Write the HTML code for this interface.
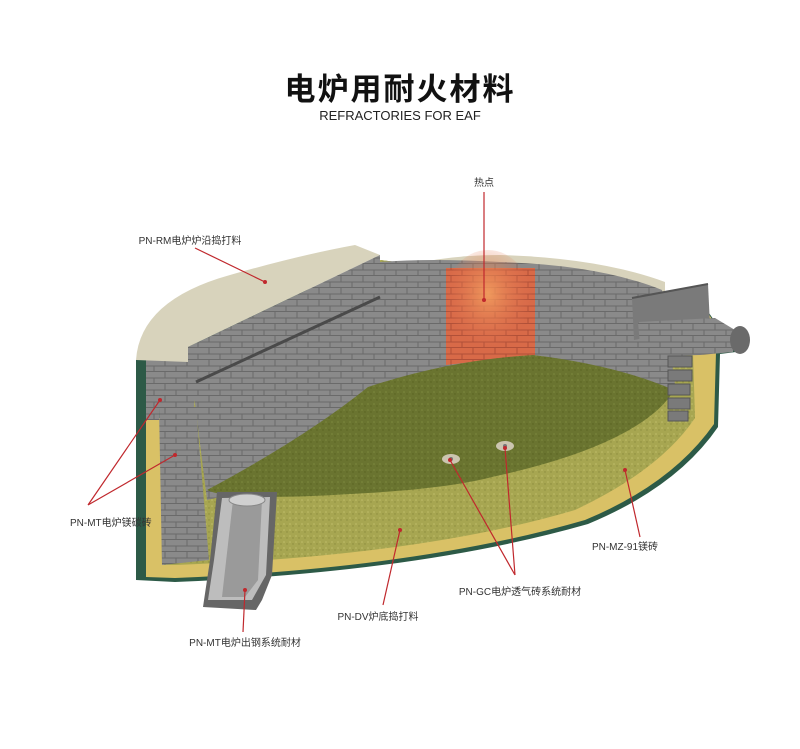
<!DOCTYPE html>
<html><head><meta charset="utf-8"><style>
html,body{margin:0;padding:0;background:#fff;}
body{width:800px;height:744px;overflow:hidden;font-family:"Liberation Sans","Noto Sans CJK SC",sans-serif;}
</style></head><body>
<svg width="800" height="744" viewBox="0 0 800 744" xmlns="http://www.w3.org/2000/svg">
<defs>
<pattern id="brick" width="22" height="12" patternUnits="userSpaceOnUse">
<rect width="22" height="12" fill="#8a8a8a"/>
<path d="M0 11.5H22M11 0V6M0 6H22M0 6V12M22 6V12" stroke="#6a6a6a" stroke-width="1" fill="none"/>
</pattern>
<pattern id="brickH" width="22" height="12" patternUnits="userSpaceOnUse">
<rect width="22" height="12" fill="#d86a48"/>
<path d="M0 11.5H22M11 0V6M0 6H22M0 6V12M22 6V12" stroke="#b05038" stroke-width="1" fill="none"/>
</pattern>
<radialGradient id="hot" cx="0.5" cy="0.4" r="0.5">
<stop offset="0" stop-color="#f3a060" stop-opacity="0.9"/><stop offset="1" stop-color="#e07050" stop-opacity="0"/>
</radialGradient>
<pattern id="speck" width="6" height="6" patternUnits="userSpaceOnUse">
<rect width="6" height="6" fill="#6a7430"/><circle cx="2" cy="2" r="0.8" fill="#7d8a3e"/><circle cx="5" cy="4" r="0.7" fill="#58621f"/>
</pattern>
<pattern id="speck2" width="6" height="6" patternUnits="userSpaceOnUse">
<rect width="6" height="6" fill="#a7a651"/><circle cx="2" cy="2" r="0.8" fill="#c0bd6a"/><circle cx="5" cy="4" r="0.7" fill="#8a8a3c"/>
</pattern>
</defs>
<text x="400" y="100" font-size="31" font-weight="bold" text-anchor="middle" fill="#111" letter-spacing="2">电炉用耐火材料</text>
<text x="400" y="120" font-size="13" text-anchor="middle" fill="#222">REFRACTORIES FOR EAF</text>

<!-- layered shell -->
<path d="M136 360 L136 580 L175 582 Q420 572 588 524 Q677 487 718 427 L720 354 L736 352 L700 300 L380 260 Z" fill="#2d5a47"/>
<path d="M146 418 L146 577 L175 578 Q420 568 585 520 Q672 484 714 424 L716 352 L730 348 L700 300 L380 260 L160 418 Z" fill="#d9c166"/>
<path d="M160 418 L162 565 L175 565 Q420 556 575 510 Q660 470 695 418 L693 352 L700 300 L380 260 Z" fill="url(#speck2)"/>
<!-- back rim -->
<path d="M375 275 Q430 255 500 255 Q600 258 665 282 L665 300 L375 300 Z" fill="#d8d3bc"/>
<!-- back wall backdrop -->
<path d="M188 347 L380 262 Q430 258 500 262 Q600 265 662 290 L676 392 L207 500 Z" fill="url(#brick)"/>
<path d="M446 268 L535 268 L535 355 L446 365 Z" fill="url(#brickH)"/>
<ellipse cx="488" cy="305" rx="45" ry="55" fill="url(#hot)"/>
<!-- floor dark -->
<path d="M207 490 Q306 437 368 387 Q450 360 533 355 Q616 365 674 390 Q660 415 616 437 Q570 460 492 477 Q450 488 368 493 Q230 502 207 490 Z" fill="url(#speck)"/>
<!-- left shell -->
<path d="M146 360 L194 360 L194 407 L159 407 L159 420 L146 420 Z" fill="url(#brick)"/>
<path d="M159 407 L196 407 L209 560 L162 565 Z" fill="url(#brick)"/>
<!-- front rim + left block -->
<path d="M136 360 Q140 300 230 275 Q300 255 355 245 L380 255 L188 347 L188 362 Z" fill="#d8d3bc"/>
<path d="M188 347 L380 255 L380 297 L196 382 L194 407 L188 400 Z" fill="url(#brick)"/>
<path d="M196 382 L380 297" stroke="#4a4a4a" stroke-width="3"/>
<!-- right structure -->
<path d="M632 298 L708 284 L710 325 L634 340 Z" fill="#7a7a7a"/>
<path d="M632 298 L708 284" stroke="#555" stroke-width="2"/>
<path d="M638 322 L715 318 L735 330 L733 352 L700 355 L668 356 L640 345 Z" fill="url(#brick)"/>
<ellipse cx="740" cy="340" rx="10" ry="14" fill="#6a6a6a"/>
<g fill="#7a7a7a" stroke="#555" stroke-width="1">
<rect x="668" y="356" width="24" height="11"/><rect x="668" y="370" width="24" height="11"/>
<rect x="668" y="384" width="22" height="11"/><rect x="668" y="398" width="22" height="11"/><rect x="668" y="411" width="20" height="10"/>
</g>
<!-- tapping channel -->
<path d="M217 492 L277 492 L272 575 L262 600 L256 610 L203 607 L210 560 Z" fill="#666"/>
<path d="M222 498 L270 497 L266 575 L252 600 L208 600 L214 560 Z" fill="#bdbdbd"/>
<path d="M233 500 L262 500 L258 580 L245 597 L222 597 Z" fill="#9a9a9a"/>
<ellipse cx="247" cy="500" rx="18" ry="6" fill="#d0d0d0" stroke="#888"/>
<!-- tuyeres -->
<ellipse cx="451" cy="459" rx="9" ry="5" fill="#ccc5b0"/><circle cx="451" cy="459" r="2" fill="#777"/>
<ellipse cx="505" cy="446" rx="9" ry="5" fill="#ccc5b0"/><circle cx="505" cy="446" r="2" fill="#777"/>

<g stroke="#c0282d" stroke-width="1.2" fill="none">
<path d="M484 192 V300"/>
<path d="M195 248 L265 282"/>
<path d="M88 505 L160 400 M88 505 L175 455"/>
<path d="M243 632 L245 590"/>
<path d="M383 605 L400 530"/>
<path d="M515 575 L450 460 M515 575 L505 448"/>
<path d="M640 537 L625 470"/>
</g>
<g fill="#c0282d">
<circle cx="484" cy="300" r="2"/><circle cx="265" cy="282" r="2"/><circle cx="160" cy="400" r="2"/><circle cx="175" cy="455" r="2"/>
<circle cx="245" cy="590" r="2"/><circle cx="400" cy="530" r="2"/><circle cx="450" cy="460" r="2"/><circle cx="505" cy="448" r="2"/><circle cx="625" cy="470" r="2"/>
</g>
<g font-size="10" fill="#333">
<text x="484" y="186" text-anchor="middle">热点</text>
<text x="190" y="244" text-anchor="middle">PN-RM电炉炉沿捣打料</text>
<text x="70" y="526">PN-MT电炉镁碳砖</text>
<text x="245" y="646" text-anchor="middle">PN-MT电炉出钢系统耐材</text>
<text x="378" y="620" text-anchor="middle">PN-DV炉底捣打料</text>
<text x="520" y="595" text-anchor="middle">PN-GC电炉透气砖系统耐材</text>
<text x="625" y="550" text-anchor="middle">PN-MZ-91镁砖</text>
</g>
</svg>
</body></html>
